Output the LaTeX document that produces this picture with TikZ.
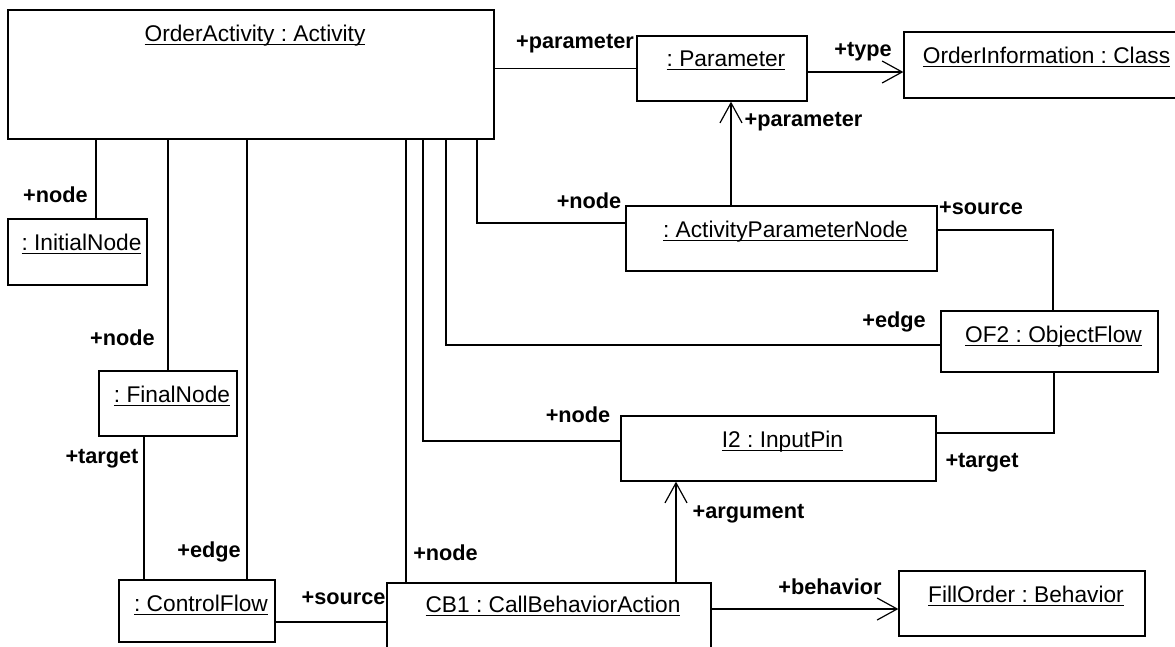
\documentclass[tikz,border=0pt]{standalone}
\usepackage{fontspec}
\setmainfont{Liberation Sans}
\usetikzlibrary{arrows.meta}
\frenchspacing
\newcommand\undl[1]{\setbox0\hbox{#1}\rlap{\rule[-4pt]{\wd0}{1.3pt}}\box0}
\begin{document}
\begin{tikzpicture}[x=1pt,y=-1pt,
  obj/.style={draw, line width=1.3pt, inner sep=0pt},
  boxlbl/.style={anchor=north, yshift=-15pt, xshift=4pt, inner sep=0pt, font=\fontsize{22.7pt}{26pt}\selectfont\frenchspacing},
  role/.style={inner sep=0pt, font=\fontsize{21.7pt}{25pt}\selectfont\bfseries},
  assoc/.style={line width=1.2pt},
  nav/.style={line width=1.2pt, -{Straight Barb[length=20pt,width=22pt,line width=1.2pt]}}]
\useasboundingbox (0,0) rectangle (1175,646);
% boxes
\node[obj, minimum width=486pt, minimum height=129pt, label={[boxlbl,name=actL]north:\undl{OrderActivity : Activity}}] (act) at (251,74.5) {};
\node[obj, minimum width=170pt, minimum height=65pt, label={[boxlbl,name=parL]north:\undl{: Parameter}}] (par) at (722,68.5) {};
\node[obj, minimum width=277pt, minimum height=66pt, label={[boxlbl,name=oinfoL]north:\undl{OrderInformation : Class}}] (oinfo) at (1042.5,65) {};
\node[obj, minimum width=139pt, minimum height=66pt, label={[boxlbl,name=initL]north:\undl{: InitialNode}}] (init) at (77.5,252) {};
\node[obj, minimum width=311pt, minimum height=65pt, label={[boxlbl,name=apnL]north:\undl{: ActivityParameterNode}}] (apn) at (781.5,238.5) {};
\node[obj, minimum width=138pt, minimum height=65pt, label={[boxlbl,name=finalL]north:\undl{: FinalNode}}] (final) at (168,403.5) {};
\node[obj, minimum width=217pt, minimum height=61pt, label={[boxlbl,name=of2L]north:\undl{OF2 : ObjectFlow}}] (of2) at (1049.5,341.5) {};
\node[obj, minimum width=315pt, minimum height=65pt, label={[boxlbl,name=pinL]north:\undl{I2 : InputPin}}] (pin) at (778.5,448.5) {};
\node[obj, minimum width=156pt, minimum height=62pt, label={[boxlbl,name=cflowL]north:\undl{: ControlFlow}}] (cflow) at (197,611) {};
\node[obj, minimum width=324pt, minimum height=77pt, label={[boxlbl,name=cb1L,yshift=2pt]north:\undl{CB1 : CallBehaviorAction}}] (cb1) at (549,621.5) {};
\node[obj, minimum width=246pt, minimum height=65pt, label={[boxlbl,name=foL]north:\undl{FillOrder : Behavior}}] (fo) at (1022,603.5) {};
% helper coordinates
\coordinate (xi) at (96,0);
\coordinate (xc) at (247,0);
\coordinate (xf) at (144,0);
\coordinate (yc) at (0,622);
\coordinate (xb) at (406,0);
\coordinate (xp) at (423,441);
\coordinate (xo) at (446,345);
\coordinate (xa) at (477,223);
\coordinate (ya) at (1053,230);
\coordinate (yo) at (1054,433);
\coordinate (xg) at (676,0);
\coordinate (yb) at (0,609);
% connectors
\draw[assoc] (par.west -| act.east) -- (par.west);
\draw[nav] ([yshift=-3.5pt]par.east) -- ([yshift=-3.5pt]par.east -| oinfo.west);
\draw[nav] ([xshift=9pt]par.south |- apn.north) -- ([xshift=9pt]par.south);
\draw[assoc] (xi |- act.south) -- (xi |- init.north);
\draw[assoc] (final.north |- act.south) -- (final.north);
\draw[assoc] (xc |- act.south) -- (xc |- cflow.north);
\draw[assoc] (xf |- final.south) -- (xf |- cflow.north);
\draw[assoc] (cflow.east |- yc) -- (cb1.west |- yc);
\draw[assoc] (xb |- act.south) -- (xb |- cb1.north);
\draw[assoc] (xp |- act.south) -- (xp) -- (xp -| pin.west);
\draw[assoc] (xo |- act.south) -- (xo) -- (xo -| of2.west);
\draw[assoc] (xa |- act.south) -- (xa) -- (xa -| apn.west);
\draw[assoc] (ya -| apn.east) -- (ya) -- (ya |- of2.north);
\draw[assoc] (yo |- of2.south) -- (yo) -- (yo -| pin.east);
\draw[nav] (xg |- cb1.north) -- (xg |- pin.south);
\draw[nav] (cb1.east |- yb) -- (fo.west |- yb);
% role labels
\node[role] (r1) at (55.5,195) {+node};
\node[role] (r2) at (122.5,338) {+node};
\node[role] (r3) at (102,459) {+target};
\node[role] (r4) at (209,552) {+edge};
\node[role] (r5) at (343.5,598) {+source};
\node[role] (r6) at (445.5,553) {+node};
\node[role] (r7) at (578,415) {+node};
\node[role] (r8) at (589,201) {+node};
\node[role] (r9) at (575,44) {+parameter};
\node[role] (r10) at (863,52) {+type};
\node[role] (r11) at (803.5,122) {+parameter};
\node[role] (r12) at (981,208) {+source};
\node[role] (r13) at (894,322) {+edge};
\node[role] (r14) at (982,463) {+target};
\node[role] (r15) at (748.5,514) {+argument};
\node[role] (r16) at (830,587) {+behavior};
\end{tikzpicture}
\end{document}
